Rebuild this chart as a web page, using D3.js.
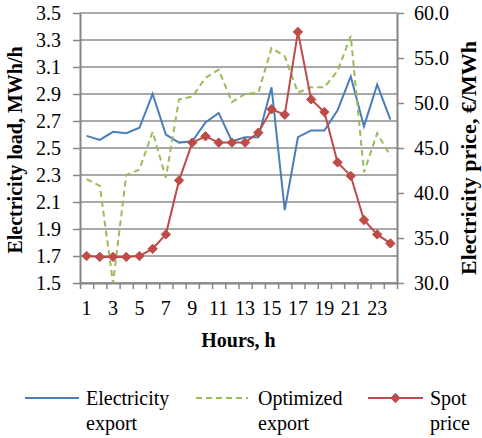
<!DOCTYPE html>
<html>
<head>
<meta charset="utf-8">
<script src="https://cdn.jsdelivr.net/npm/d3@7"></script>
<style>
  html, body { margin: 0; padding: 0; background: #fff; }
  svg { display: block; }
  svg text { font-family: 'Liberation Serif', 'DejaVu Serif', serif; fill: #000; }
</style>
</head>
<body>
<svg id="chart" width="482" height="438"></svg>
<script>
// Hourly data
const hours = [1, 2, 3, 4, 5, 6, 7, 8, 9, 10, 11, 12, 13, 14, 15, 16, 17, 18, 19, 20, 21, 22, 23, 24];
const electricityExport = [2.59, 2.56, 2.62, 2.61, 2.65, 2.90, 2.60, 2.54, 2.55, 2.69, 2.76, 2.55,
                           2.58, 2.58, 2.95, 2.04, 2.58, 2.63, 2.63, 2.78, 3.03, 2.66, 2.97, 2.71];
const optimizedExport   = [2.27, 2.22, 1.50, 2.30, 2.34, 2.62, 2.28, 2.86, 2.88, 3.02, 3.08, 2.84,
                           2.90, 2.91, 3.24, 3.18, 2.91, 2.95, 2.95, 3.07, 3.33, 2.32, 2.61, 2.44];
const spotPrice         = [33.0, 32.9, 32.9, 32.9, 33.0, 33.8, 35.4, 41.4, 45.6, 46.3, 45.6, 45.6,
                           45.6, 46.7, 49.3, 48.7, 57.9, 50.4, 49.0, 43.4, 41.9, 37.0, 35.4, 34.4];
const loadTicks  = [1.5, 1.7, 1.9, 2.1, 2.3, 2.5, 2.7, 2.9, 3.1, 3.3, 3.5];
const priceTicks = [30, 35, 40, 45, 50, 55, 60];
const hourLabels = [1, 3, 5, 7, 9, 11, 13, 15, 17, 19, 21, 23];

const FONT = "'Liberation Serif', 'DejaVu Serif', serif";
const svg = d3.select("#chart");
const plot = { left: 80, right: 397, top: 13, bottom: 283 };
const gridColor = "#8c8c8c";
const axisColor = "#868686";

const x = d3.scaleBand().domain(hours).range([plot.left, plot.right]).padding(0);
const xEdge = d3.scaleLinear().domain([0, hours.length]).range([plot.left, plot.right]);
const yLoad = d3.scaleLinear().domain([1.5, 3.5]).range([plot.bottom, plot.top]);
const yPrice = d3.scaleLinear().domain([30, 60]).range([plot.bottom, plot.top]);
const cx = h => x(h) + x.bandwidth() / 2;

// Horizontal gridlines on the load scale
svg.append("g").selectAll("line").data(loadTicks).join("line")
  .attr("x1", plot.left).attr("x2", plot.right)
  .attr("y1", d => yLoad(d)).attr("y2", d => yLoad(d))
  .attr("stroke", gridColor).attr("stroke-width", 1.6);

function styleAxis(g, size) {
  g.attr("font-family", FONT).attr("font-size", size);
  g.select(".domain").attr("stroke", axisColor).attr("stroke-width", 2);
  g.selectAll(".tick line").attr("stroke", axisColor).attr("stroke-width", 1.5);
  g.selectAll("text").attr("fill", "#000");
}

// Left axis
const leftAxis = svg.append("g").attr("transform", `translate(${plot.left},0)`)
  .call(d3.axisLeft(yLoad).tickValues(loadTicks).tickFormat(d3.format(".1f"))
    .tickSizeInner(7).tickSizeOuter(0).tickPadding(12));
styleAxis(leftAxis, 20);

// Right axis
const rightAxis = svg.append("g").attr("transform", `translate(${plot.right},0)`)
  .call(d3.axisRight(yPrice).tickValues(priceTicks).tickFormat(d3.format(".1f"))
    .tickSizeInner(7).tickSizeOuter(0).tickPadding(10));
styleAxis(rightAxis, 20);

// Bottom axis: tick marks on category boundaries
const bottomTicks = svg.append("g").attr("transform", `translate(0,${plot.bottom})`)
  .call(d3.axisBottom(xEdge).tickValues(d3.range(0, hours.length + 1)).tickFormat("")
    .tickSizeInner(6).tickSizeOuter(0));
styleAxis(bottomTicks, 20);

// Bottom axis labels centred on categories
const bottomLabels = svg.append("g").attr("transform", `translate(0,${plot.bottom})`)
  .call(d3.axisBottom(x).tickValues(hourLabels).tickSize(0).tickPadding(18));
bottomLabels.select(".domain").remove();
styleAxis(bottomLabels, 20);

// Series lines
const lineLoad = vals => d3.line().x((d, i) => cx(hours[i])).y(d => yLoad(d))(vals);
const linePrice = d3.line().x((d, i) => cx(hours[i])).y(d => yPrice(d));

svg.append("path").attr("d", lineLoad(electricityExport))
  .attr("fill", "none").attr("stroke", "#4a7ebb").attr("stroke-width", 2);
svg.append("path").attr("d", lineLoad(optimizedExport))
  .attr("fill", "none").attr("stroke", "#9bbb59").attr("stroke-width", 2)
  .attr("stroke-dasharray", "6,4");
svg.append("path").attr("d", linePrice(spotPrice))
  .attr("fill", "none").attr("stroke", "#be4b48").attr("stroke-width", 2);

const diamond = d3.symbol().type(d3.symbolDiamond2).size(56);
svg.append("g").selectAll("path").data(spotPrice).join("path")
  .attr("d", diamond)
  .attr("transform", (d, i) => `translate(${cx(hours[i])},${yPrice(d)})`)
  .attr("fill", "#be4b48").attr("stroke", "#be4b48").attr("stroke-width", 1);

// Axis titles
svg.append("text").attr("transform", "translate(22,150) rotate(-90)")
  .attr("text-anchor", "middle").attr("font-size", 20).attr("font-weight", "bold")
  .text("Electricity load, MWh/h");
svg.append("text").attr("transform", "translate(476,158) rotate(-90)")
  .attr("text-anchor", "middle").attr("font-size", 22).attr("font-weight", "bold")
  .text("Electricity price, €/MWh");
svg.append("text").attr("x", (plot.left + plot.right) / 2).attr("y", 347)
  .attr("text-anchor", "middle").attr("font-size", 20).attr("font-weight", "bold")
  .text("Hours, h");

// Legend
const legend = svg.append("g");
const legendItems = [
  { lines: ["Electricity", "export"], color: "#4a7ebb", dash: null, marker: false, x1: 25, x2: 79, tx: 86 },
  { lines: ["Optimized", "export"], color: "#9bbb59", dash: "6,4", marker: false, x1: 196, x2: 248, tx: 258 },
  { lines: ["Spot", "price"], color: "#be4b48", dash: null, marker: true, x1: 368, x2: 423, tx: 430 }
];
legendItems.forEach(it => {
  legend.append("line").attr("x1", it.x1).attr("x2", it.x2).attr("y1", 398).attr("y2", 398)
    .attr("stroke", it.color).attr("stroke-width", 2)
    .attr("stroke-dasharray", it.dash);
  if (it.marker) {
    legend.append("path").attr("d", diamond)
      .attr("transform", `translate(${(it.x1 + it.x2) / 2},398)`)
      .attr("fill", it.color).attr("stroke", it.color);
  }
  const t = legend.append("text").attr("x", it.tx).attr("y", 405).attr("font-size", 20);
  it.lines.forEach((s, k) => t.append("tspan").attr("x", it.tx).attr("dy", k ? 25 : 0).text(s));
});
</script>
</body>
</html>
